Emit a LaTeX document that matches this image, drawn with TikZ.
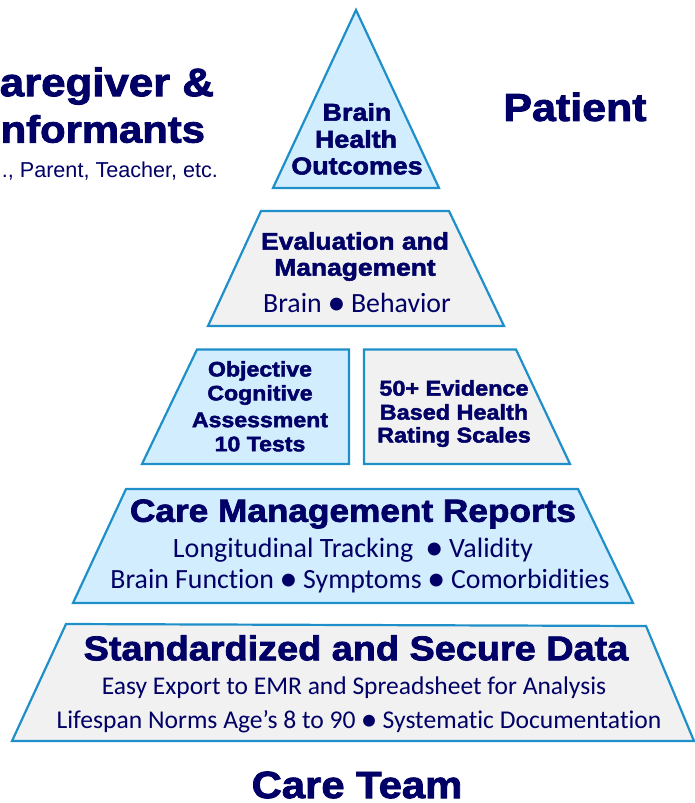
\documentclass[tikz,border=0pt]{standalone}
\usepackage{fontspec}
\setmainfont{Carlito}[Ligatures=NoCommon]
\newfontfamily\blackf{Liberation Sans}[UprightFont=* Bold,FakeStretch=1.1,FakeBold=2.2]
\newfontfamily\arialf{Liberation Sans}
\definecolor{navy}{HTML}{000066}
\definecolor{edgeblue}{HTML}{1E8FC9}
\definecolor{paleblue}{HTML}{D2EDFD}
\definecolor{palegray}{HTML}{F1F1F1}
\newcommand{\fsz}[1]{\fontsize{#1}{#1}\selectfont}
\tikzset{
 bluepanel/.style={draw=edgeblue,fill=paleblue,line width=2.2pt,line join=miter},
 graypanel/.style={draw=edgeblue,fill=palegray,line width=2.2pt,line join=miter},
 txt/.style={inner sep=0pt,outer sep=0pt,text=navy,anchor=center},
 heading/.style={txt,font=\blackf\fsz{#1}},
 body/.style={txt,font=\fsz{#1}},
 plain/.style={txt,font=\arialf\fsz{#1}}
}
\begin{document}
\begin{tikzpicture}[x=1pt,y=-1pt]
\useasboundingbox (0,0) rectangle (694,803);
\draw[bluepanel] (356,10) -- (439,188) -- (273,188) -- cycle;
\draw[graypanel] (261,211) -- (449,211) -- (504,326) -- (208,326) -- cycle;
\draw[bluepanel] (197,349.5) -- (349,349.5) -- (349,464) -- (142,464) -- cycle;
\draw[graypanel] (364,349.5) -- (516,349.5) -- (570,464) -- (364,464) -- cycle;
\draw[bluepanel] (126,489) -- (578,489) -- (633,603) -- (73,603) -- cycle;
\draw[graypanel] (66,624) -- (646,626) -- (694,741) -- (12,741) -- cycle;

\node[heading=24.4] (t1) at (357,112) {Brain};
\node[heading=24.4] (t2) at (356,139) {Health};
\node[heading=24.4] (t3) at (357,166) {Outcomes};
\node[heading=24] (e1) at (355,241) {Evaluation and};
\node[heading=24] (e2) at (355,270) {Management};
\node[body=27.8] (e3) at (357,303) {Brain ● Behavior};
\node[heading=21] (o1) at (260,371) {Objective};
\node[heading=21] (o2) at (260,395) {Cognitive};
\node[heading=21] (o3) at (260,420) {Assessment};
\node[heading=21] (o4) at (260,444) {10 Tests};
\node[heading=21.3] (s1) at (454,388) {50+ Evidence};
\node[heading=21.3] (s2) at (454,412) {Based Health};
\node[heading=21.3] (s3) at (454,437) {Rating Scales};
\node[heading=32] (c1) at (353,514) {Care Management Reports};
\node[body=28] (c2) at (353,550) {Longitudinal Tracking \ ● Validity};
\node[body=27.8] (c3) at (360,581) {Brain Function ● Symptoms ● Comorbidities};
\node[heading=34.4] (d1) at (356,648) {Standardized and Secure Data};
\node[body=25.5] (d2) at (354,688) {Easy Export to EMR and Spreadsheet for Analysis};
\node[body=25.6] (d3) at (359,722) {Lifespan Norms Age’s 8 to 90 ● Systematic Documentation};
\node[heading=39] (p1) at (575,107) {Patient};
\node[heading=38] (ct) at (357,785) {Care Team};
\node[heading=39.8,anchor=east] (g1) at (214,86) {aregiver \&};
\node[heading=38,anchor=east] (g2) at (205,129) {nformants};
\node[plain=21.6,anchor=east] (g3) at (218,171) {., Parent, Teacher, etc.};
\end{tikzpicture}
\end{document}
